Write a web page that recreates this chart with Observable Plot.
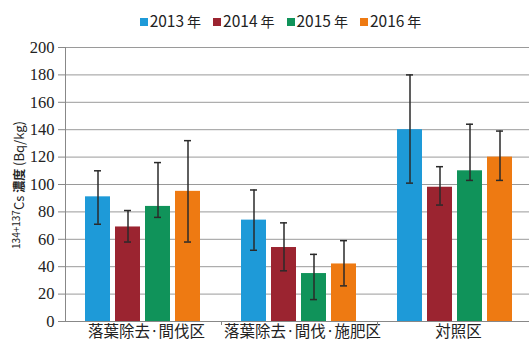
<!DOCTYPE html>
<html><head><meta charset="utf-8">
<script src="https://cdn.jsdelivr.net/npm/d3@7"></script>
<script src="https://cdn.jsdelivr.net/npm/@observablehq/plot@0.6"></script>
<style>
body{margin:0;background:#fff;overflow:hidden;}
#wrap{position:relative;width:529px;height:342px;}
#legend{position:absolute;top:9px;left:0;width:529px;display:flex;justify-content:center;gap:12px;font-family:"Liberation Sans Narrow","Noto Sans CJK JP",sans-serif;font-size:15.5px;color:#222;padding-left:32px;box-sizing:border-box;}
#legend span.sw{display:inline-block;width:8px;height:8px;margin-right:2px;vertical-align:1px;}
#legend .jp{font-family:"Noto Sans CJK JP";font-size:14px;margin-left:3px;}
#ylab{position:absolute;left:18px;top:185px;transform:translate(-50%,-50%) rotate(-90deg);white-space:nowrap;font-family:"Liberation Sans Narrow","Noto Sans CJK JP",sans-serif;font-size:13px;color:#222;}
#ylab sup{font-size:10px;vertical-align:4px;}
#ylab .jp{font-family:"Noto Sans CJK JP";font-size:12px;font-weight:bold;}
</style></head>
<body><div id="wrap"><div id="legend"></div><div id="ylab"><sup>134+137</sup>Cs <span class="jp">濃度</span> (Bq/kg)</div></div>
<script>
const categories = ["落葉除去·間伐区", "落葉除去·間伐·施肥区", "対照区"];
const years = ["2013 年", "2014 年", "2015 年", "2016 年"];
const colors = ["#1e9ad8", "#9b2430", "#10935a", "#ee7a12"];
// values per category, one per year
const means = [
  [91, 69, 84, 95],
  [74, 54, 35, 42],
  [140, 98, 110, 120]
];
const lows = [
  [71, 58, 76, 58],
  [52, 37, 16, 26],
  [101, 85, 103, 103]
];
const highs = [
  [110, 81, 116, 132],
  [96, 72, 49, 59],
  [180, 113, 144, 139]
];
const yTicks = [0, 20, 40, 60, 80, 100, 120, 140, 160, 180, 200];

const data = [];
categories.forEach((c, i) => years.forEach((y, j) => {
  data.push({cat: c, year: y, v: means[i][j], lo: lows[i][j], hi: highs[i][j]});
}));

const legend = document.getElementById("legend");
years.forEach((y, j) => {
  const d = document.createElement("div");
  const [num, kanji] = y.split(" ");
  d.innerHTML = `<span class="sw" style="background:${colors[j]}"></span>${num}<span class="jp">${kanji}</span>`;
  legend.appendChild(d);
});

const chart = Plot.plot({
  width: 529,
  height: 342,
  marginTop: 47,
  marginBottom: 21,
  marginLeft: 65,
  marginRight: -4,
  style: {background: "transparent", overflow: "visible"},
  fx: {domain: categories, paddingInner: 0, paddingOuter: 0, label: null},
  x: {domain: years, paddingInner: 0.161, paddingOuter: 0.6, axis: null},
  y: {domain: [0, 200], ticks: yTicks, label: null},
  color: {domain: years, range: colors},
  marks: [
    Plot.ruleY(yTicks.filter(t => t > 0), {stroke: "#9a9a9a", strokeWidth: 1}),
    Plot.barY(data, {fx: "cat", x: "year", y: "v", fill: "year"}),
    Plot.ruleX(data, {fx: "cat", x: "year", y1: "lo", y2: "hi", stroke: "#2a2a2a", strokeWidth: 1.5}),
    Plot.tickY(data, {fx: "cat", x: "year", y: "lo", stroke: "#2a2a2a", strokeWidth: 1.5, insetLeft: 9, insetRight: 9}),
    Plot.tickY(data, {fx: "cat", x: "year", y: "hi", stroke: "#2a2a2a", strokeWidth: 1.5, insetLeft: 9, insetRight: 9}),
    Plot.ruleY([0], {stroke: "#888", strokeWidth: 1}),
    Plot.axisY({ticks: yTicks, tickSize: 7, tickPadding: 4, stroke: "#888", fontSize: 16.5, fill: "#222", label: null,
      fontFamily: "Liberation Sans Narrow"}),
    Plot.axisFx({anchor: "bottom", tickSize: 0, tickPadding: 4, fontSize: 15.5, fill: "#222", label: null,
      fontFamily: "Noto Sans CJK JP", dx: 3})
  ]
});
const svg = d3.select(chart);
// left axis line
svg.append("line")
  .attr("x1", 65.5).attr("x2", 65.5).attr("y1", 47).attr("y2", 321)
  .attr("stroke", "#888");
// small separator ticks between categories, placed with the fx scale
const fx = chart.scale("fx");
categories.slice(1).forEach(c => {
  const x = Math.round(fx.apply(c)) + 0.5;
  svg.append("line").attr("x1", x).attr("x2", x).attr("y1", 321).attr("y2", 325).attr("stroke", "#888");
});
document.getElementById("wrap").appendChild(chart);
chart.style.position = "absolute"; chart.style.left = "0"; chart.style.top = "0";
</script></body></html>
